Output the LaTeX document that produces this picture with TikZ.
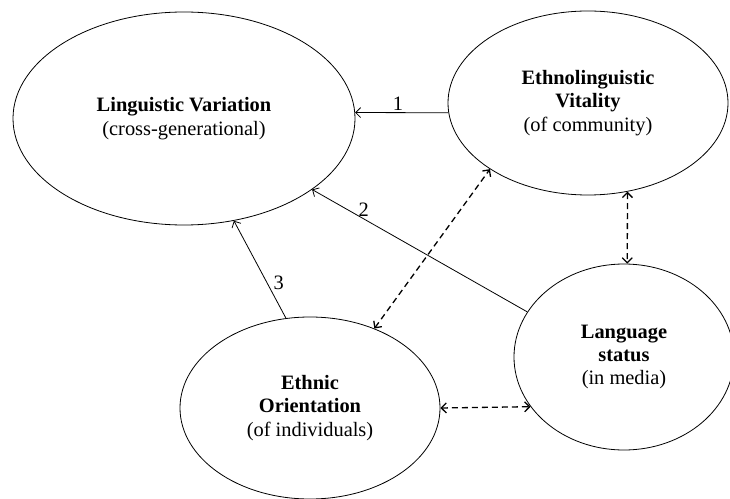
\documentclass[tikz,border=0pt]{standalone}
\usepackage{fontspec}
\setmainfont{Liberation Serif}
\usetikzlibrary{shapes.geometric,arrows.meta}

\tikzset{
	factor/.style={draw, ellipse, line width=0.8bp, inner sep=0pt, align=center, font=\fontsize{20.5}{23.5}\selectfont},
	effect/.style={-{Straight Barb[length=5bp,width=10bp]}, line width=0.8bp},
	mutual/.style={{Straight Barb[length=5bp,width=10bp]}-{Straight Barb[length=5bp,width=10bp]}, line width=1.3bp, dash pattern=on 6bp off 4bp},
	num/.style={font=\fontsize{20.5}{23.5}\selectfont, inner sep=2bp}
}

\begin{document}
\begin{tikzpicture}[x=1bp,y=-1bp]
	\useasboundingbox (0,0) rectangle (730,499);

	\node[factor, minimum width=342bp, minimum height=213bp] (variation) at (184,118.5) {\textbf{Linguistic Variation}\\(cross-generational)};
	\node[factor, minimum width=280bp, minimum height=184bp] (vitality) at (588,103) {\textbf{Ethnolinguistic}\\\textbf{Vitality}\\(of community)};
	\node[factor, minimum width=220bp, minimum height=186bp] (status) at (624,357) {\textbf{Language}\\\textbf{status}\\(in media)};
	\node[factor, minimum width=260bp, minimum height=182bp] (orientation) at (310,408) {\textbf{Ethnic}\\\textbf{Orientation}\\(of individuals)};

	\draw[effect] (vitality.184.4) -- node[num, pos=0.54, above] {1} (variation.2.8);
	\draw[effect] (status.155.6) -- node[num, pos=0.76, above] {2} (variation.-29.8);
	\draw[effect] (orientation.105.8) -- node[num, pos=0.36, right=4bp] {3} (variation.-64);

	\draw[mutual] (orientation.51) -- (vitality.214);
	\draw[mutual] (vitality.294.5) -- (status.88);
	\draw[mutual] (orientation.0) -- (status.208.5);
\end{tikzpicture}
\end{document}
